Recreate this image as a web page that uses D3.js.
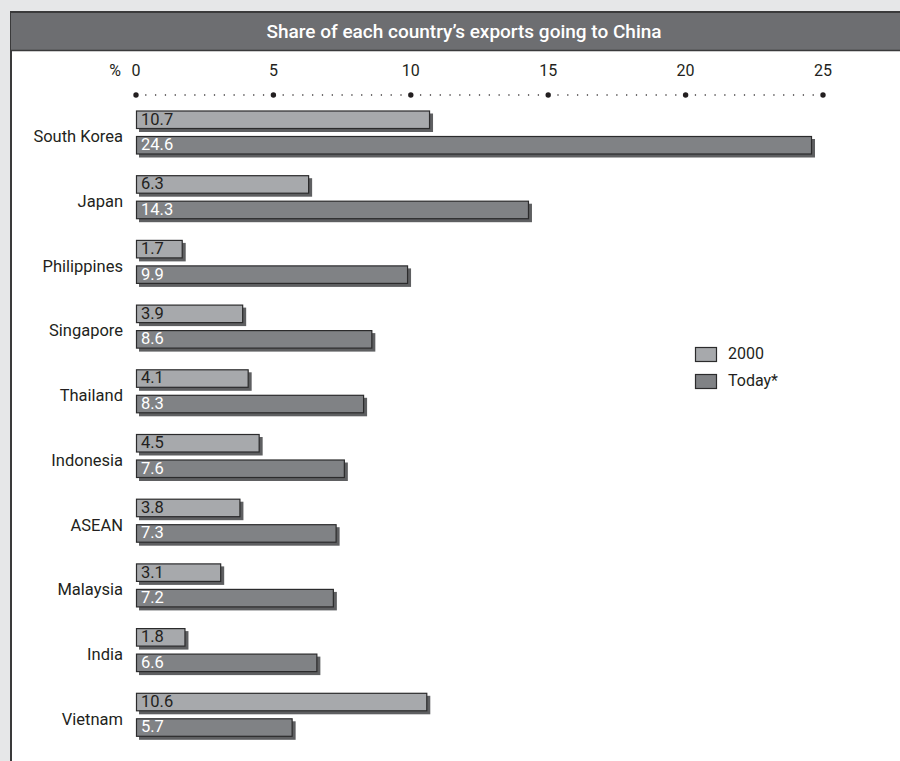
<!DOCTYPE html>
<html>
<head>
<meta charset="utf-8">
<script src="https://cdn.jsdelivr.net/npm/d3@7"></script>
<style>
  body { margin: 0; background: #e6e7e8; }
  svg { display: block; font-family: Roboto, "Open Sans", sans-serif; }
</style>
</head>
<body>
<script>
let w = 900
let h = 761

// data
let countries = ["South Korea", "Japan", "Philippines", "Singapore", "Thailand", "Indonesia", "ASEAN", "Malaysia", "India", "Vietnam"]
let values2000 = [10.7, 6.3, 1.7, 3.9, 4.1, 4.5, 3.8, 3.1, 1.8, 10.6]
let valuesToday = [24.6, 14.3, 9.9, 8.6, 8.3, 7.6, 7.3, 7.2, 6.6, 5.7]
let seriesNames = ["2000", "Today*"]
let ticks = [0, 5, 10, 15, 20, 25]
let title = "Share of each country\u2019s exports going to China"

let COLORS = ["#a7a9ac", "#808285"]
let SHADOW = "#5e5f61"
let INK = "#231f20"

let data = countries.map((c, i) => ({ country: c, v: [values2000[i], valuesToday[i]] }))

let svg = d3.select("body").append("svg")
  .attr("width", w)
  .attr("height", h)

// panel
svg.append("rect")
  .attr("x", 11).attr("y", 12)
  .attr("width", w).attr("height", h)
  .attr("fill", "#fff")
  .attr("stroke", "#3a3a3b").attr("stroke-width", 2)

// title bar
svg.append("rect")
  .attr("x", 11).attr("y", 13)
  .attr("width", w).attr("height", 37)
  .attr("fill", "#6d6e71")
svg.append("line")
  .attr("x1", 11).attr("x2", w)
  .attr("y1", 50.5).attr("y2", 50.5)
  .attr("stroke", "#3a3a3b").attr("stroke-width", 1.5)
svg.append("text")
  .attr("x", 464).attr("y", 33)
  .attr("text-anchor", "middle")
  .attr("dominant-baseline", "middle")
  .attr("fill", "#fff")
  .attr("font-size", 19)
  .attr("font-weight", 500)
  .text(title)

// scales
let x = d3.scaleLinear().domain([0, 25]).range([136, 823])
let y = d3.scaleBand().domain(countries).range([110.5, 110.5 + 64.7 * countries.length])
let barH = 18.5
let barOff = [0, 25.5]

// axis: dotted line with big dots at ticks
let axisY = 95
let smallDots = d3.range(0, 25.001, 5 / 14)
svg.append("g").selectAll("circle")
  .data(smallDots)
  .enter().append("circle")
  .attr("cx", d => x(d)).attr("cy", axisY)
  .attr("r", 0.75).attr("fill", INK)
svg.append("g").selectAll("circle")
  .data(ticks)
  .enter().append("circle")
  .attr("cx", d => x(d)).attr("cy", axisY)
  .attr("r", 2.7).attr("fill", INK)
svg.append("g").selectAll("text")
  .data(ticks)
  .enter().append("text")
  .attr("x", d => x(d)).attr("y", 72)
  .attr("text-anchor", "middle")
  .attr("dominant-baseline", "middle")
  .attr("font-size", 16)
  .attr("fill", INK)
  .text(d => d)
svg.append("text")
  .attr("x", 121).attr("y", 72)
  .attr("text-anchor", "end")
  .attr("dominant-baseline", "middle")
  .attr("font-size", 16)
  .attr("fill", INK)
  .text("%")

// groups
let groups = svg.append("g").selectAll("g")
  .data(data)
  .enter().append("g")
  .attr("transform", d => "translate(0," + y(d.country) + ")")

groups.append("text")
  .attr("x", 123).attr("y", barOff[1] + 2)
  .attr("text-anchor", "end")
  .attr("dominant-baseline", "middle")
  .attr("font-size", 16.5)
  .attr("fill", INK)
  .text(d => d.country)

let bars = groups.selectAll("g.bar")
  .data(d => d.v.map((v, k) => ({ v: v, k: k })))
  .enter().append("g")
  .attr("class", "bar")

// shadow
bars.append("rect")
  .attr("x", x(0) + 3)
  .attr("y", d => barOff[d.k] + 3)
  .attr("width", d => x(d.v) - x(0))
  .attr("height", barH)
  .attr("fill", SHADOW)
bars.append("rect")
  .attr("x", x(0) + 0.5)
  .attr("y", d => barOff[d.k] + 0.5)
  .attr("width", d => x(d.v) - x(0) - 1)
  .attr("height", barH - 1)
  .attr("fill", d => COLORS[d.k])
  .attr("stroke", "#2b2b2c").attr("stroke-width", 1.2)
bars.append("text")
  .attr("x", x(0) + 5)
  .attr("y", d => barOff[d.k] + barH / 2 + 0.5)
  .attr("dominant-baseline", "middle")
  .attr("font-size", 16.5)
  .attr("fill", d => d.k == 0 ? INK : "#fff")
  .text(d => d.v.toFixed(1))

// legend
let legend = svg.append("g").selectAll("g")
  .data(seriesNames)
  .enter().append("g")
  .attr("transform", (d, i) => "translate(695," + (347 + i * 27) + ")")
legend.append("rect")
  .attr("x", 0.5).attr("y", 0.5)
  .attr("width", 21).attr("height", 14)
  .attr("fill", (d, i) => COLORS[i])
  .attr("stroke", "#2b2b2c").attr("stroke-width", 1.2)
legend.append("text")
  .attr("x", 33).attr("y", 8)
  .attr("dominant-baseline", "middle")
  .attr("font-size", 16)
  .attr("fill", INK)
  .text(d => d)
</script>
</body>
</html>
